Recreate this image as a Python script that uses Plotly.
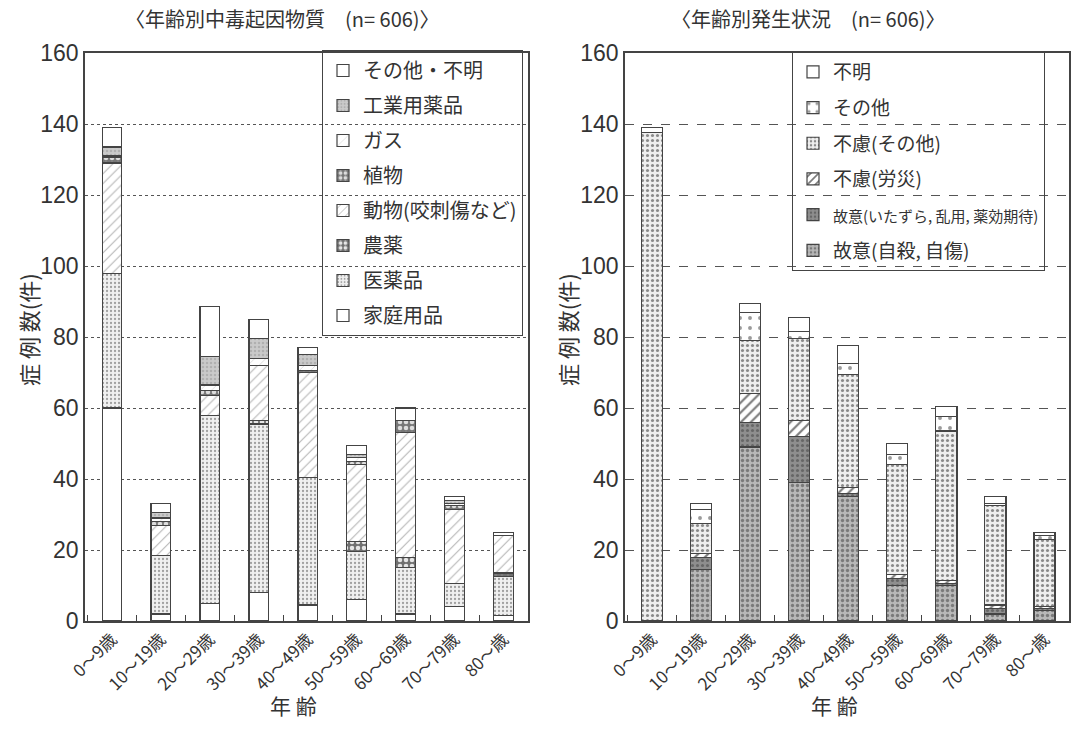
import plotly.graph_objects as go

W, H = 1071, 732

ages = ["0〜9歳", "10〜19歳", "20〜29歳", "30〜39歳", "40〜49歳",
        "50〜59歳", "60〜69歳", "70〜79歳", "80〜歳"]

# Left chart: 年齢別中毒起因物質 (stack order bottom -> top)
katei = [60, 2, 5, 8, 4.5, 6, 2, 4, 1.5]           # 家庭用品
iyaku = [38, 16.5, 53, 47.5, 36, 13.5, 13, 6.5, 11]  # 医薬品
noyaku = [0, 0, 0, 1, 0, 3, 3, 0, 1]                # 農薬
dobutsu = [31, 8.5, 5.5, 15.5, 29.5, 21.5, 35, 21, 10.5]  # 動物
shokubutsu = [1.5, 1, 1.5, 0, 0.5, 1, 3.5, 1, 0]    # 植物
gas = [0.5, 1, 1.5, 2, 1.5, 1, 0, 0.5, 0]           # ガス
kogyo = [2.5, 1.5, 8, 5.5, 3, 1, 0, 1, 0]           # 工業用薬品
sonota_fumei = [5.5, 2.5, 14, 5.5, 2, 2.5, 3.5, 1, 1]  # その他・不明

# Right chart: 年齢別発生状況 (stack order bottom -> top)
koi_jisatsu = [0, 14.5, 49, 39, 35, 10, 10, 2, 3]
koi_itazura = [0, 3.5, 7, 13, 1, 2, 0.5, 1.5, 0.5]
furyo_rosai = [0, 1, 8, 4.5, 1.5, 1, 1, 1, 0.5]
furyo_sonota = [137.5, 8.5, 15, 23, 32, 31, 42, 28, 19]
sonota = [0, 4, 8, 2, 3, 3, 4, 0.5, 1]
fumei = [1.5, 1.5, 2.5, 4, 5, 3, 3, 2, 1]

LINE = dict(color="#444", width=1.2)


def pat(shape="", bg="white", fg="#888", size=6, sol=0.3):
    if shape == "":
        return dict(shape="")
    return dict(shape=shape, bgcolor=bg, fgcolor=fg, size=size,
                solidity=sol, fillmode="replace")


left_series = [
    ("家庭用品", katei, "white", pat()),
    ("医薬品", iyaku, "#eeeeee", pat(".", "#f0f0f0", "#a0a0a0", 4, 0.25)),
    ("農薬", noyaku, "#777", pat(".", "#707070", "#e6e6e6", 6, 0.45)),
    ("動物(咬刺傷など)", dobutsu, "white", pat("/", "white", "#b4b4b4", 7, 0.15)),
    ("植物", shokubutsu, "#777", pat(".", "#777777", "#dddddd", 6, 0.45)),
    ("ガス", gas, "white", pat("/", "white", "#d4d4d4", 8, 0.1)),
    ("工業用薬品", kogyo, "#c8c8c8", pat(".", "#cacaca", "#b0b0b0", 4, 0.3)),
    ("その他・不明", sonota_fumei, "white", pat()),
]

right_series = [
    ("故意(自殺, 自傷)", koi_jisatsu, "#b5b5b5", pat(".", "#b8b8b8", "#7a7a7a", 5, 0.35)),
    ("<span style='font-size:15px'>故意(いたずら, 乱用, 薬効期待)</span>", koi_itazura, "#8c8c8c",
     pat(".", "#8e8e8e", "#666666", 5, 0.3)),
    ("不慮(労災)", furyo_rosai, "white", pat("/", "white", "#7a7a7a", 7, 0.3)),
    ("不慮(その他)", furyo_sonota, "#eeeeee", pat(".", "#efefef", "#8a8a8a", 5, 0.3)),
    ("その他", sonota, "white", pat(".", "white", "#9a9a9a", 10, 0.12)),
    ("不明", fumei, "white", pat()),
]

fig = go.Figure()
for i, (name, vals, col, p) in enumerate(left_series):
    fig.add_trace(go.Bar(
        x=ages, y=vals, name=name, width=0.4,
        marker=dict(color=col, line=LINE, pattern=p),
        xaxis="x", yaxis="y", legend="legend", legendgroup=f"L{i}",
        legendrank=100 - i))
for i, (name, vals, col, p) in enumerate(right_series):
    fig.add_trace(go.Bar(
        x=ages, y=vals, name=name, width=0.43,
        marker=dict(color=col, line=LINE, pattern=p),
        xaxis="x2", yaxis="y2", legend="legend2", legendgroup=f"R{i}",
        legendrank=100 - i))

px = lambda v: v / W
py = lambda v: 1 - v / H

FONT = "Noto Sans CJK JP"
NUMFONT = "Liberation Sans Narrow, Liberation Sans, Noto Sans CJK JP"

xcommon = dict(type="category", range=[-0.55, 8.5], showline=True,
               linecolor="#444", linewidth=1.5, mirror=True,
               ticks="inside", tickson="boundaries", ticklen=6,
               tickcolor="#444", tickangle=-45, automargin=False,
               tickfont=dict(size=17, color="#333", family=FONT),
               showgrid=False)
ycommon = dict(range=[0, 160], dtick=20, showline=True, linecolor="#444",
               linewidth=1.5, mirror=True, ticks="", automargin=False,
               tickfont=dict(size=23, color="#333", family=NUMFONT),
               gridcolor="#555", gridwidth=1, zeroline=False)


def ann(text, x, y, size, angle=0):
    return dict(text=text, x=px(x), y=py(y), xref="paper", yref="paper",
                xanchor="center", yanchor="middle", showarrow=False,
                textangle=angle, font=dict(size=size, color="#333"))


fig.update_layout(
    width=W, height=H,
    margin=dict(l=0, r=0, t=0, b=0, autoexpand=False),
    paper_bgcolor="white", plot_bgcolor="white",
    barmode="stack",
    font=dict(family=FONT, color="#333"),
    xaxis=dict(domain=[px(85), px(528)], anchor="y", **xcommon),
    xaxis2=dict(domain=[px(625), px(1069)], anchor="y2", **xcommon),
    yaxis=dict(domain=[py(621), py(53)], anchor="x", griddash="dot", **ycommon),
    yaxis2=dict(domain=[py(621), py(53)], anchor="x2", griddash="dash", **ycommon),
    legend=dict(x=px(322), y=py(50), xanchor="left", yanchor="top",
                bgcolor="rgba(0,0,0,0)", bordercolor="#444", borderwidth=1,
                font=dict(size=20, color="#333"), traceorder="grouped",
                tracegroupgap=6),
    legend2=dict(x=px(792), y=py(52), xanchor="left", yanchor="top",
                 bgcolor="rgba(0,0,0,0)", bordercolor="#444", borderwidth=1,
                 font=dict(size=19, color="#333"), traceorder="grouped",
                 tracegroupgap=8),
    annotations=[
        ann("〈年齢別中毒起因物質　(n= 606)〉", 282, 18, 20),
        ann("〈年齢別発生状況　(n= 606)〉", 808, 18, 20),
        ann("症 例 数(件)", 28, 330, 22, -90),
        ann("症 例 数(件)", 567, 330, 22, -90),
        ann("年 齢", 293, 705, 21),
        ann("年 齢", 834, 705, 21),
    ],
)

fig.write_html("out.html")
